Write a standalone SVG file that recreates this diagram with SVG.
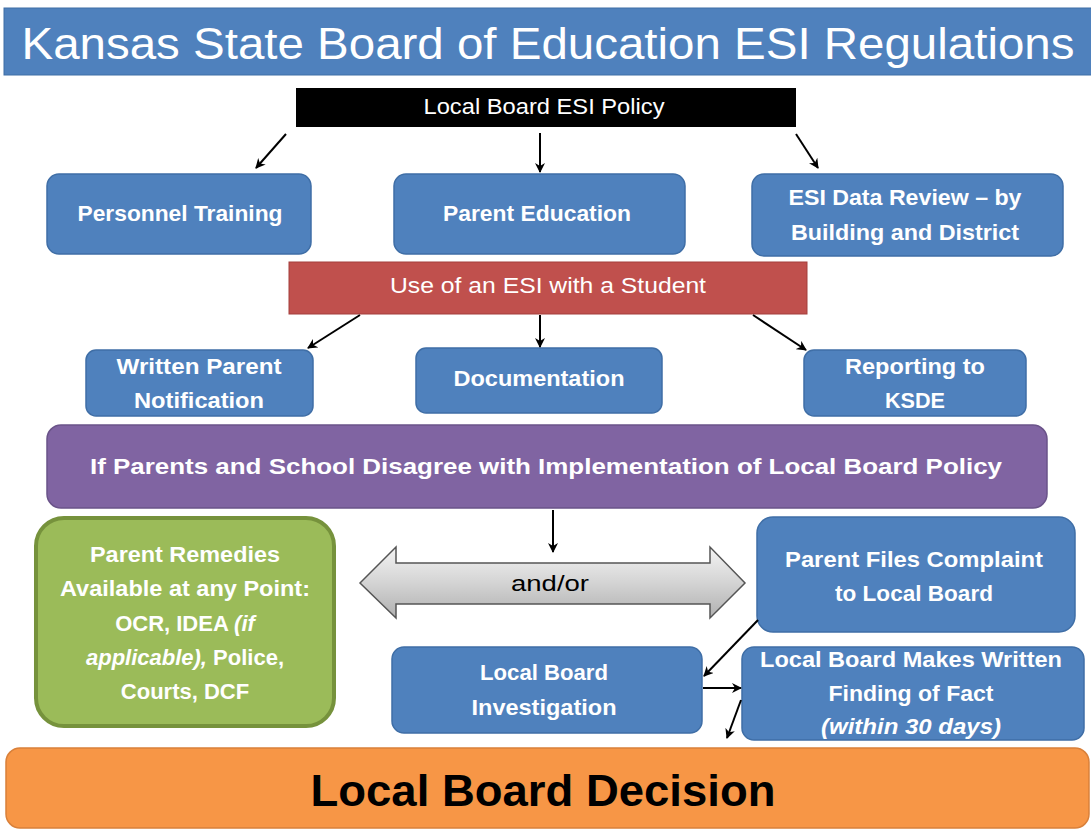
<svg xmlns="http://www.w3.org/2000/svg" width="1091" height="831" viewBox="0 0 1091 831">
<style>
.t{font-family:"Liberation Sans","Open Sans",sans-serif;fill:#fff;text-anchor:middle}
.b{font-weight:bold}
.blue{fill:#4F81BD;stroke:#3F6EA6;stroke-width:1.5}
.c{stroke:#000;stroke-width:2;fill:none;marker-end:url(#ah)}
</style>
<defs>
<marker id="ah" viewBox="0 0 10 10" refX="9" refY="5" markerWidth="5" markerHeight="5" orient="auto-start-reverse"><path d="M0,0 L10,5 L0,10 L3,5 z" fill="#000"/></marker>
<linearGradient id="gg" x1="0" y1="0" x2="0" y2="1"><stop offset="0" stop-color="#f4f4f4"/><stop offset="0.5" stop-color="#d4d4d4"/><stop offset="1" stop-color="#b0b0b0"/></linearGradient>
</defs>
<rect width="1091" height="831" fill="#fff"/>
<g id="title"><rect x="4" y="8" width="1090" height="67" fill="#4F81BD" stroke="#3F6EA6"/><text class="t" x="548" y="59" font-size="44" textLength="1053" lengthAdjust="spacingAndGlyphs">Kansas State Board of Education ESI Regulations</text></g>
<g id="policy"><rect x="296" y="88" width="500" height="39" fill="#000"/><text class="t" x="544" y="114" font-size="22" textLength="241" lengthAdjust="spacingAndGlyphs">Local Board ESI Policy</text></g>
<g id="training"><rect class="blue" x="47" y="174" width="264" height="80" rx="12"/><text class="t b" x="180" y="221" font-size="22" textLength="205" lengthAdjust="spacingAndGlyphs">Personnel Training</text></g>
<g id="education"><rect class="blue" x="394" y="174" width="291" height="80" rx="12"/><text class="t b" x="537" y="221" font-size="22" textLength="188" lengthAdjust="spacingAndGlyphs">Parent Education</text></g>
<g id="review"><rect class="blue" x="752" y="174" width="311" height="82" rx="12"/><text class="t b" x="905" y="205" font-size="22" textLength="233" lengthAdjust="spacingAndGlyphs">ESI Data Review – by</text><text class="t b" x="905" y="240" font-size="22" textLength="228" lengthAdjust="spacingAndGlyphs">Building and District</text></g>
<g id="use"><rect x="289" y="262" width="518" height="52" fill="#C0504D" stroke="#A33F3C"/><text class="t" x="548" y="293" font-size="22" textLength="316" lengthAdjust="spacingAndGlyphs">Use of an ESI with a Student</text></g>
<g id="notification"><rect class="blue" x="86" y="350" width="227" height="66" rx="10"/><text class="t b" x="199" y="374" font-size="22" textLength="165" lengthAdjust="spacingAndGlyphs">Written Parent</text><text class="t b" x="199" y="408" font-size="22" textLength="130" lengthAdjust="spacingAndGlyphs">Notification</text></g>
<g id="documentation"><rect class="blue" x="416" y="348" width="246" height="65" rx="10"/><text class="t b" x="539" y="386" font-size="22" textLength="171" lengthAdjust="spacingAndGlyphs">Documentation</text></g>
<g id="reporting"><rect class="blue" x="804" y="350" width="222" height="66" rx="10"/><text class="t b" x="915" y="374" font-size="22" textLength="140" lengthAdjust="spacingAndGlyphs">Reporting to</text><text class="t b" x="915" y="408" font-size="22" textLength="60" lengthAdjust="spacingAndGlyphs">KSDE</text></g>
<g id="disagree"><rect x="47" y="425" width="1000" height="83" rx="14" fill="#8064A2" stroke="#6A5389" stroke-width="1.5"/><text class="t b" x="546" y="474" font-size="22" textLength="912" lengthAdjust="spacingAndGlyphs">If Parents and School Disagree with Implementation of Local Board Policy</text></g>
<g id="remedies"><rect x="36" y="518" width="298" height="208" rx="28" fill="#9BBB59" stroke="#76923C" stroke-width="4"/>
<text class="t b" x="185" y="562" font-size="22" textLength="190" lengthAdjust="spacingAndGlyphs">Parent Remedies</text>
<text class="t b" x="185" y="596" font-size="22" textLength="250" lengthAdjust="spacingAndGlyphs">Available at any Point:</text>
<text class="t b" x="185" y="631" font-size="22">OCR, IDEA <tspan font-style="italic">(if</tspan></text>
<text class="t b" x="185" y="665" font-size="22"><tspan font-style="italic">applicable),</tspan> Police,</text>
<text class="t b" x="185" y="699" font-size="22">Courts, DCF</text></g>
<g id="andor"><path d="M360,583 L396,547 L396,563 L710,563 L710,547 L745,583 L710,618 L710,604 L396,604 L396,618 Z" fill="url(#gg)" stroke="#555" stroke-width="1.5"/><text x="550" y="591" font-family="Liberation Sans,sans-serif" font-size="22" text-anchor="middle" fill="#000" textLength="78" lengthAdjust="spacingAndGlyphs">and/or</text></g>
<g id="complaint"><rect class="blue" x="757" y="517" width="318" height="115" rx="16"/><text class="t b" x="914" y="567" font-size="22" textLength="258" lengthAdjust="spacingAndGlyphs">Parent Files Complaint</text><text class="t b" x="914" y="601" font-size="22" textLength="158" lengthAdjust="spacingAndGlyphs">to Local Board</text></g>
<g id="investigation"><rect class="blue" x="392" y="647" width="310" height="86" rx="12"/><text class="t b" x="544" y="680" font-size="22" textLength="128" lengthAdjust="spacingAndGlyphs">Local Board</text><text class="t b" x="544" y="715" font-size="22" textLength="145" lengthAdjust="spacingAndGlyphs">Investigation</text></g>
<g id="finding"><rect class="blue" x="742" y="647" width="342" height="93" rx="12"/><text class="t b" x="911" y="667" font-size="22" textLength="302" lengthAdjust="spacingAndGlyphs">Local Board Makes Written</text><text class="t b" x="911" y="701" font-size="22" textLength="165" lengthAdjust="spacingAndGlyphs">Finding of Fact</text><text class="t b" x="911" y="734" font-size="22" font-style="italic" textLength="180" lengthAdjust="spacingAndGlyphs">(within 30 days)</text></g>
<g id="decision"><rect x="6" y="748" width="1083" height="80" rx="14" fill="#F79646" stroke="#D9803A" stroke-width="1.5"/><text x="543" y="806" font-family="Liberation Sans,sans-serif" font-weight="bold" font-size="44" text-anchor="middle" fill="#000" textLength="465" lengthAdjust="spacingAndGlyphs">Local Board Decision</text></g>
<g id="connectors">
<line class="c" x1="286" y1="134" x2="256" y2="168"/>
<line class="c" x1="540" y1="133" x2="540" y2="172"/>
<line class="c" x1="796" y1="134" x2="818" y2="168"/>
<line class="c" x1="360" y1="315" x2="308" y2="348"/>
<line class="c" x1="540" y1="315" x2="540" y2="347"/>
<line class="c" x1="753" y1="315" x2="806" y2="350"/>
<line class="c" x1="553" y1="510" x2="553" y2="552"/>
<line class="c" x1="758" y1="620" x2="704" y2="676"/>
<line class="c" x1="703" y1="688" x2="741" y2="688"/>
<line class="c" x1="741" y1="700" x2="727" y2="738"/>
</g>
</svg>
